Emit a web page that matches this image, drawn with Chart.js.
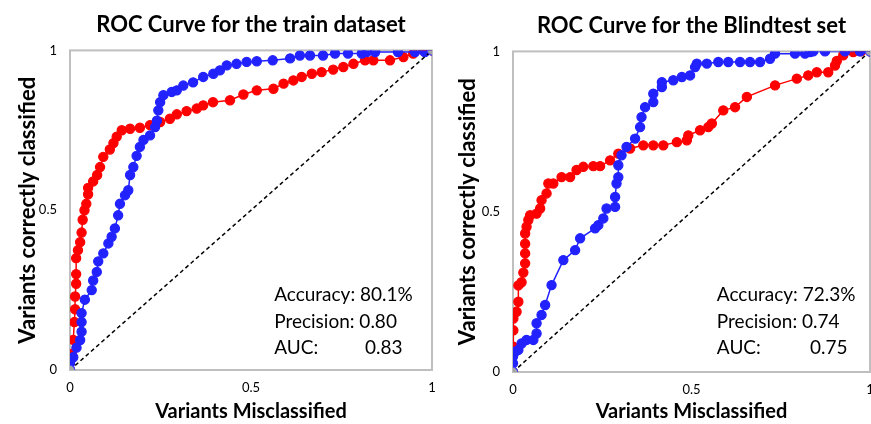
<!DOCTYPE html>
<html>
<head>
<meta charset="utf-8">
<script src="https://cdn.jsdelivr.net/npm/chart.js@4"></script>
<style>
  body { margin: 0; width: 871px; height: 424px; overflow: hidden; background: #fff; position: relative; }
  canvas { position: absolute; top: 0; }
  #trainChart { left: 0; }
  #blindChart { left: 440px; }
</style>
</head>
<body>
<canvas id="trainChart" width="440" height="424"></canvas>
<canvas id="blindChart" width="440" height="424"></canvas>
<script>
// Data (false positive rate / true positive rate)
const trainRedFpr = [0, 0.005, 0.009, 0.012, 0.014, 0.014, 0.017, 0.017, 0.017, 0.022, 0.028, 0.032, 0.035, 0.04, 0.045, 0.05, 0.05, 0.064, 0.075, 0.083, 0.092, 0.11, 0.12, 0.129, 0.143, 0.166, 0.193, 0.221, 0.249, 0.276, 0.295, 0.322, 0.35, 0.368, 0.395, 0.442, 0.479, 0.516, 0.562, 0.59, 0.617, 0.64, 0.668, 0.695, 0.727, 0.755, 0.783, 0.815, 0.838, 0.884, 0.921, 0.948, 0.976, 1];
const trainRedTpr = [0, 0.05, 0.094, 0.15, 0.19, 0.23, 0.27, 0.3, 0.35, 0.375, 0.4, 0.43, 0.47, 0.5, 0.52, 0.55, 0.57, 0.59, 0.61, 0.635, 0.667, 0.69, 0.71, 0.73, 0.75, 0.755, 0.758, 0.766, 0.776, 0.786, 0.8, 0.81, 0.818, 0.828, 0.838, 0.844, 0.862, 0.875, 0.88, 0.896, 0.906, 0.917, 0.927, 0.932, 0.94, 0.948, 0.958, 0.969, 0.969, 0.969, 0.979, 0.99, 1, 1];

const trainBlueFpr = [0, 0, 0.009, 0.018, 0.028, 0.032, 0.032, 0.032, 0.041, 0.06, 0.064, 0.074, 0.078, 0.092, 0.106, 0.115, 0.124, 0.133, 0.138, 0.152, 0.161, 0.166, 0.175, 0.184, 0.193, 0.203, 0.221, 0.235, 0.24, 0.244, 0.249, 0.258, 0.281, 0.295, 0.313, 0.34, 0.368, 0.396, 0.414, 0.433, 0.46, 0.488, 0.516, 0.56, 0.608, 0.635, 0.663, 0.699, 0.732, 0.768, 0.806, 0.82, 0.843, 0.906, 0.953, 0.98, 1];
const trainBlueTpr = [0, 0.02, 0.04, 0.07, 0.094, 0.12, 0.15, 0.178, 0.22, 0.25, 0.28, 0.307, 0.34, 0.365, 0.396, 0.417, 0.443, 0.484, 0.52, 0.547, 0.5625, 0.61, 0.635, 0.67, 0.698, 0.72, 0.734, 0.76, 0.78, 0.8125, 0.838, 0.86, 0.87, 0.875, 0.89, 0.9, 0.917, 0.927, 0.9375, 0.953, 0.958, 0.964, 0.966, 0.969, 0.975, 0.984, 0.984, 0.984, 0.99, 0.99, 0.99, 0.995, 0.995, 0.995, 0.995, 0.995, 1];

const blindRedFpr = [0, 0.001, 0.001, 0.001, 0.01, 0.015, 0.015, 0.024, 0.029, 0.034, 0.034, 0.034, 0.034, 0.038, 0.043, 0.048, 0.066, 0.076, 0.08, 0.094, 0.099, 0.113, 0.136, 0.16, 0.178, 0.197, 0.225, 0.244, 0.272, 0.295, 0.328, 0.365, 0.393, 0.421, 0.459, 0.487, 0.491, 0.524, 0.547, 0.557, 0.589, 0.622, 0.655, 0.734, 0.795, 0.827, 0.851, 0.883, 0.902, 0.907, 0.925, 0.953, 0.975, 1];
const blindRedTpr = [0, 0.079, 0.13, 0.167, 0.188, 0.219, 0.27, 0.28, 0.31, 0.339, 0.37, 0.4, 0.432, 0.453, 0.474, 0.489, 0.494, 0.51, 0.536, 0.557, 0.588, 0.588, 0.608, 0.608, 0.63, 0.64, 0.642, 0.642, 0.66, 0.681, 0.697, 0.707, 0.707, 0.707, 0.717, 0.723, 0.738, 0.754, 0.764, 0.775, 0.816, 0.826, 0.858, 0.894, 0.915, 0.925, 0.935, 0.935, 0.956, 0.97, 0.988, 0.998, 1, 1];

const blindBlueFpr = [0, 0, 0, 0.006, 0.015, 0.024, 0.038, 0.057, 0.066, 0.066, 0.08, 0.09, 0.108, 0.141, 0.174, 0.188, 0.23, 0.239, 0.253, 0.262, 0.286, 0.286, 0.29, 0.295, 0.295, 0.304, 0.318, 0.342, 0.356, 0.36, 0.37, 0.393, 0.393, 0.417, 0.417, 0.449, 0.473, 0.496, 0.51, 0.515, 0.543, 0.575, 0.603, 0.636, 0.664, 0.692, 0.72, 0.734, 0.79, 0.818, 0.832, 0.841, 0.874, 0.93, 0.972, 1];
const blindBlueTpr = [0, 0.027, 0.048, 0.063, 0.069, 0.089, 0.1, 0.1, 0.12, 0.152, 0.178, 0.209, 0.271, 0.349, 0.38, 0.417, 0.448, 0.458, 0.479, 0.51, 0.515, 0.546, 0.588, 0.608, 0.645, 0.676, 0.702, 0.728, 0.764, 0.795, 0.826, 0.842, 0.868, 0.889, 0.904, 0.91, 0.92, 0.925, 0.951, 0.962, 0.962, 0.967, 0.967, 0.967, 0.967, 0.967, 0.977, 0.993, 0.993, 0.993, 0.998, 1, 1, 1, 1, 1];

const chanceFpr = [0, 1];
const chanceTpr = [0, 1];

const axisTicks = [0, 0.5, 1];

const trainStats = ['Accuracy: 80.1%', 'Precision: 0.80', 'AUC:', '0.83'];
const blindStats = ['Accuracy: 72.3%', 'Precision: 0.74', 'AUC:', '0.75'];

const FONT = 'Lato';
const RED = '#ff0000';
const BLUE = '#2222ff';

const toPoints = (xs, ys) => xs.map((x, i) => ({ x: x, y: ys[i] }));

const curve = (xs, ys, color) => ({
    data: toPoints(xs, ys),
    borderColor: color,
    backgroundColor: color,
    borderWidth: 1.5,
    pointRadius: 4.6,
    pointBorderWidth: 1.2,
    pointBorderColor: color,
    pointBackgroundColor: color,
    tension: 0
});

// plot frame + text lines inside the plot
const framePlugin = {
    id: 'frame',
    beforeDatasetsDraw(chart) {
        const { ctx, chartArea: a } = chart;
        ctx.save();
        ctx.strokeStyle = '#bfbfbf';
        ctx.lineWidth = 2;
        ctx.strokeRect(a.left, a.top, a.right - a.left, a.bottom - a.top);
        ctx.restore();
    },
    afterDraw(chart, args, opts) {
        const { ctx, scales: { x, y } } = chart;
        const s = opts.lines;
        ctx.save();
        ctx.font = '19px ' + FONT;
        ctx.fillStyle = '#000';
        ctx.textBaseline = 'middle';
        ctx.textAlign = 'left';
        ctx.fillText(s[0], x.getPixelForValue(opts.at[0]), y.getPixelForValue(opts.at[1]));
        ctx.fillText(s[1], x.getPixelForValue(opts.at[0]), y.getPixelForValue(opts.at[2]));
        ctx.fillText(s[2], x.getPixelForValue(opts.at[0]), y.getPixelForValue(opts.at[3]));
        ctx.fillText(s[3], x.getPixelForValue(opts.valueX), y.getPixelForValue(opts.at[3]));
        ctx.restore();
    }
};

const makeChart = (id, title, red, blue, stats, box) => new Chart(document.getElementById(id), {
    type: 'line',
    data: {
        datasets: [
            {
                data: toPoints(chanceFpr, chanceTpr),
                borderColor: '#000',
                borderWidth: 1.5,
                borderDash: [4, 3],
                pointRadius: 4.6,
                pointBackgroundColor: '#a6a6a6',
                pointBorderColor: '#4a4aff',
                pointBorderWidth: 1
            },
            curve(blue[0], blue[1], BLUE),
            curve(red[0], red[1], RED)
        ]
    },
    options: {
        responsive: false,
        animation: false,
        layout: { padding: { right: box.right } },
        plugins: {
            legend: { display: false },
            tooltip: { enabled: false },
            title: {
                display: true,
                text: title,
                fullSize: false,
                color: '#000',
                font: { family: FONT, size: 22, weight: 'bold' },
                padding: { top: box.titleTop, bottom: box.titleBottom }
            },
            frame: { lines: stats, at: box.at, valueX: box.valueX }
        },
        scales: {
            x: {
                type: 'linear',
                min: 0,
                max: 1,
                afterFit: s => {
                    s.height = box.xHeight;
                    s.paddingLeft = 0;
                    s.paddingRight = 0;
                },
                afterBuildTicks: s => { s.ticks = axisTicks.map(v => ({ value: v })); },
                grid: { display: false, drawTicks: false },
                border: { display: false },
                ticks: {
                    padding: 10,
                    color: '#000',
                    font: { family: FONT, size: 13 },
                    maxRotation: 0,
                    callback: v => String(v)
                },
                title: {
                    display: true,
                    text: 'Variants Misclassified',
                    color: '#000',
                    font: { family: FONT, size: 20, weight: 'bold' },
                    padding: { top: 0, bottom: 0 }
                }
            },
            y: {
                type: 'linear',
                min: 0,
                max: 1,
                afterFit: s => { s.width = box.yWidth; },
                afterBuildTicks: s => { s.ticks = axisTicks.map(v => ({ value: v })); },
                grid: { display: false, drawTicks: false },
                border: { display: false },
                ticks: {
                    padding: 13,
                    color: '#000',
                    font: { family: FONT, size: 13 },
                    callback: v => String(v)
                },
                title: {
                    display: true,
                    text: 'Variants correctly classified',
                    color: '#000',
                    font: { family: FONT, size: 22, weight: 'bold' },
                    padding: { top: 15, bottom: 0 }
                }
            }
        }
    },
    plugins: [framePlugin]
});

makeChart('trainChart', 'ROC Curve for the train dataset',
    [trainRedFpr, trainRedTpr], [trainBlueFpr, trainBlueTpr], trainStats,
    { right: 8, titleTop: 12, titleBottom: 12, xHeight: 54, yWidth: 70,
      at: [0.564, 0.234, 0.15, 0.069], valueX: 0.815 });

makeChart('blindChart', 'ROC Curve for the Blindtest set',
    [blindRedFpr, blindRedTpr], [blindBlueFpr, blindBlueTpr], blindStats,
    { right: 10, titleTop: 13, titleBottom: 12, xHeight: 52, yWidth: 73,
      at: [0.571, 0.24, 0.156, 0.075], valueX: 0.832 });
</script>
</body>
</html>
